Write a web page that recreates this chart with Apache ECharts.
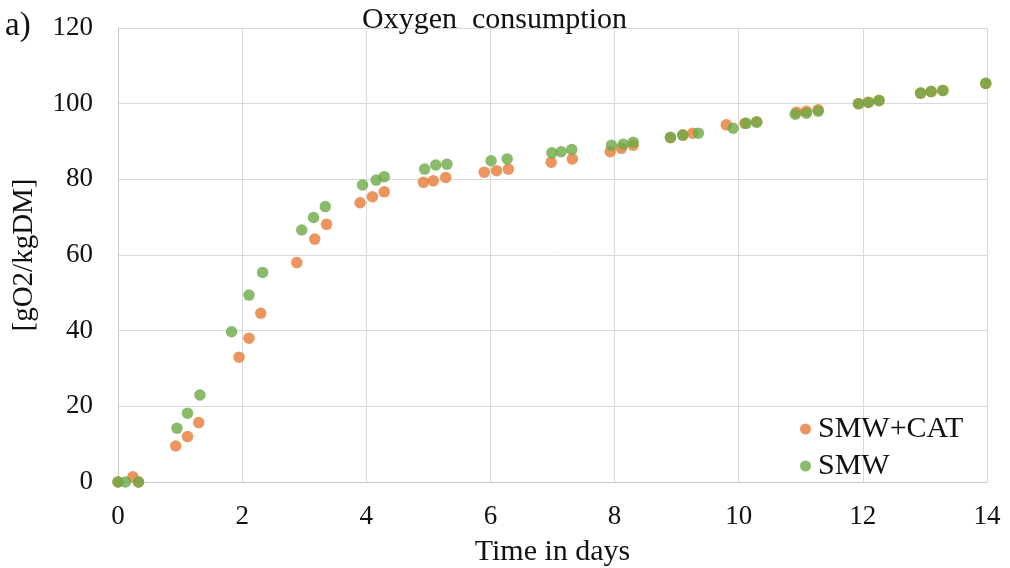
<!DOCTYPE html>
<html>
<head>
<meta charset="utf-8">
<script src="https://cdn.jsdelivr.net/npm/echarts@6/dist/echarts.min.js"></script>
<style>
html,body{margin:0;padding:0;background:#fff;}
#chart{width:1010px;height:568px;}
</style>
</head>
<body>
<div id="chart"></div>
<script>
const titleText = 'Oxygen  consumption';
const panelLabel = 'a)';
const xAxisName = 'Time in days';
const yAxisName = '[gO2/kgDM]';
const seriesNames = ['SMW+CAT', 'SMW'];

const catDays = [0, 0.24, 0.33, 0.93, 1.12, 1.30, 1.95, 2.11, 2.30, 2.88, 3.17, 3.36, 3.90, 4.10, 4.29, 4.92, 5.08, 5.28, 5.90, 6.10, 6.29, 6.98, 7.32, 7.93, 8.11, 8.30, 8.90, 9.10, 9.26, 9.80, 10.10, 10.29, 10.93, 11.09, 11.28, 11.93, 12.09, 12.26, 12.93, 13.10, 13.29, 13.98];
const catValues = [0, 1.4, 0, 9.5, 12.0, 15.7, 33.0, 38.0, 44.6, 58.0, 64.2, 68.1, 73.8, 75.4, 76.7, 79.2, 79.6, 80.5, 81.9, 82.3, 82.7, 84.5, 85.4, 87.3, 88.2, 89.0, 91.0, 91.7, 92.2, 94.4, 94.8, 95.2, 97.7, 98.0, 98.4, 100.0, 100.4, 100.9, 102.8, 103.2, 103.5, 105.3];

const smwDays = [0, 0.12, 0.33, 0.95, 1.12, 1.32, 1.83, 2.11, 2.33, 2.96, 3.15, 3.34, 3.94, 4.16, 4.29, 4.94, 5.12, 5.30, 6.01, 6.27, 6.99, 7.14, 7.31, 7.95, 8.14, 8.30, 8.90, 9.10, 9.35, 9.91, 10.12, 10.29, 10.91, 11.09, 11.28, 11.93, 12.09, 12.26, 12.93, 13.10, 13.29, 13.98];
const smwValues = [0, 0, 0, 14.2, 18.2, 23.0, 39.7, 49.4, 55.4, 66.6, 69.9, 72.8, 78.5, 79.8, 80.7, 82.7, 83.8, 84.0, 84.9, 85.4, 87.0, 87.3, 87.9, 89.0, 89.3, 89.8, 91.1, 91.7, 92.2, 93.5, 94.8, 95.1, 97.2, 97.5, 98.0, 100.0, 100.3, 100.8, 102.8, 103.2, 103.5, 105.4];

const xMin = 0, xMax = 14, xStep = 2;
const yMin = 0, yMax = 120, yStep = 20;

const pair = (xs, ys) => xs.map((x, i) => [x, ys[i]]);
const serif = '"Liberation Serif", "Times New Roman", serif';
const gridColor = '#d9d9d9';

const chart = echarts.init(document.getElementById('chart'), null, {renderer: 'canvas'});
chart.setOption({
  backgroundColor: '#ffffff',
  animation: false,
  title: {
    text: titleText,
    left: 362, top: 5, padding: 0,
    textStyle: {fontFamily: serif, fontSize: 30, fontWeight: 'normal', color: '#111'}
  },
  graphic: [{
    type: 'text', left: 5, top: 10,
    style: {text: panelLabel, font: '33px ' + serif, fill: '#111'}
  }],
  legend: {
    orient: 'vertical',
    left: 795, top: 409,
    itemWidth: 11, itemHeight: 11, itemGap: 7,
    icon: 'circle',
    data: seriesNames,
    textStyle: {fontFamily: serif, fontSize: 30, color: '#111', padding: [0, 0, 0, 2]}
  },
  grid: {left: 118, right: 23, top: 28, bottom: 86, containLabel: false, outerBoundsMode: 'none'},
  xAxis: {
    type: 'value', min: xMin, max: xMax, interval: xStep,
    name: xAxisName, nameLocation: 'middle', nameGap: 55,
    nameTextStyle: {fontFamily: serif, fontSize: 30, color: '#111'},
    axisLine: {show: true, onZero: false, lineStyle: {color: '#c8c8c8', width: 1}},
    axisTick: {show: false},
    axisLabel: {fontFamily: serif, fontSize: 27, color: '#111', margin: 21},
    splitLine: {show: true, lineStyle: {color: gridColor, width: 1}}
  },
  yAxis: {
    type: 'value', min: yMin, max: yMax, interval: yStep,
    name: yAxisName, nameLocation: 'middle', nameGap: 79, nameRotate: 90,
    nameTextStyle: {fontFamily: serif, fontSize: 29, color: '#111'},
    axisLine: {show: true, lineStyle: {color: '#c8c8c8', width: 1}},
    axisTick: {show: false},
    axisLabel: {fontFamily: serif, fontSize: 27, color: '#111', margin: 25},
    splitLine: {show: true, lineStyle: {color: gridColor, width: 1}}
  },
  series: [
    {
      name: seriesNames[0], type: 'scatter', symbolSize: 11.5,
      itemStyle: {color: '#E97B36'},
      data: pair(catDays, catValues)
    },
    {
      name: seriesNames[1], type: 'scatter', symbolSize: 11.5,
      itemStyle: {color: '#6CAA45'},
      data: pair(smwDays, smwValues)
    }
  ]
});
</script>
</body>
</html>
